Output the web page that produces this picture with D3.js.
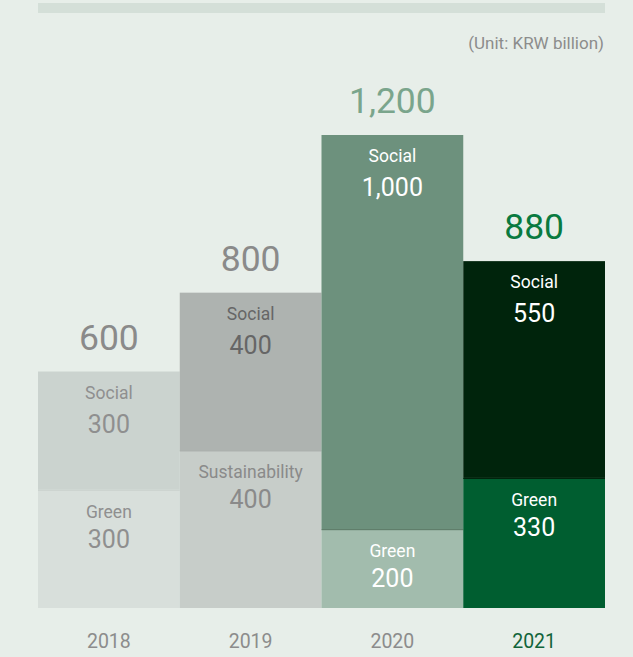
<!DOCTYPE html>
<html><head><meta charset="utf-8">
<script src="https://cdn.jsdelivr.net/npm/d3@7"></script>
<style>
html,body{margin:0;padding:0;background:#e7eee9;}
svg{display:block;font-family:Roboto,"Noto Sans",sans-serif;}
</style></head>
<body><svg id="c" width="633" height="657"></svg>
<script>
const years = ["2018","2019","2020","2021"];
const bottomNames = ["Green","Sustainability","Green","Green"];
const bottomValues = [300,400,200,330];
const topNames = ["Social","Social","Social","Social"];
const topValues = [300,400,1000,550];
const totals = [600,800,1200,880];
const unitLabel = "(Unit: KRW billion)";

const bottomFill = ["#d8dfdb","#c7cdc9","#a2bcad","#005e30"];
const topFill = ["#cbd3cf","#aeb3b0","#6d917d","#00240c"];
const bottomText = ["#8f8f8f","#8a8a8a","#ffffff","#ffffff"];
const topText = ["#8f8f8f","#666666","#ffffff","#ffffff"];
const totalColor = ["#8a8a8a","#8a8a8a","#7aa58c","#0a7a40"];
const yearColor = ["#8c8c8c","#8c8c8c","#8c8c8c","#11643a"];
const divider = ["#c9d1cd","#a0a5a2","#55735f","#00200b"];

const svg = d3.select("#c");
svg.append("rect").attr("x",38).attr("y",3).attr("width",567).attr("height",10).attr("fill","#d4dfd8");
svg.append("text").attr("x",604).attr("y",49).attr("text-anchor","end")
  .attr("font-size",17).attr("fill","#8c8c8c").text(unitLabel);

const x = d3.scaleBand().domain(years).range([38,605]).padding(0);
const y = d3.scaleLinear().domain([0,1200]).range([608,135]);
const fmt = d3.format(",");

years.forEach((yr,i)=>{
  const x0 = x(yr), w = x.bandwidth(), cx = x0 + w/2;
  const bTop = y(bottomValues[i]);
  const tTop = y(bottomValues[i]+topValues[i]);
  svg.append("rect").attr("x",x0).attr("y",bTop).attr("width",w).attr("height",y(0)-bTop).attr("fill",bottomFill[i]);
  svg.append("rect").attr("x",x0).attr("y",tTop).attr("width",w).attr("height",bTop-tTop).attr("fill",topFill[i]);
  svg.append("line").attr("x1",x0).attr("x2",x0+w).attr("y1",bTop+0.5).attr("y2",bTop+0.5).attr("stroke",divider[i]).attr("stroke-width",1);
  svg.append("text").attr("x",cx).attr("y",tTop+27).attr("text-anchor","middle").attr("font-size",17.5).attr("fill",topText[i]).text(topNames[i]);
  svg.append("text").attr("x",cx).attr("y",tTop+61).attr("text-anchor","middle").attr("font-size",25).attr("fill",topText[i]).text(fmt(topValues[i]));
  svg.append("text").attr("x",cx).attr("y",bTop+28).attr("text-anchor","middle").attr("font-size",17.5).attr("fill",bottomText[i]).text(bottomNames[i]);
  svg.append("text").attr("x",cx).attr("y",bTop+58).attr("text-anchor","middle").attr("font-size",25).attr("fill",bottomText[i]).text(fmt(bottomValues[i]));
  svg.append("text").attr("x",cx).attr("y",y(totals[i])-22).attr("text-anchor","middle").attr("font-size",35.5).attr("fill",totalColor[i]).text(fmt(totals[i]));
  svg.append("text").attr("x",cx).attr("y",648).attr("text-anchor","middle").attr("font-size",19.5).attr("fill",yearColor[i]).text(yr);
});
</script></body></html>
